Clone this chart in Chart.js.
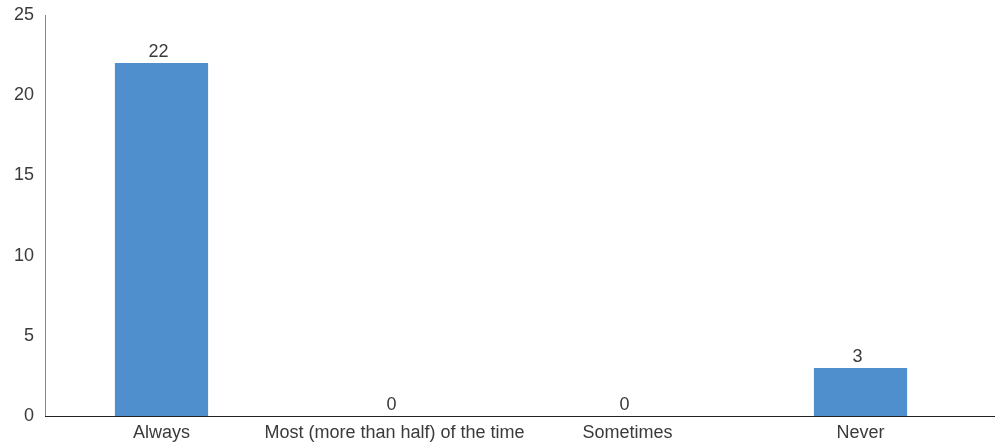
<!DOCTYPE html>
<html>
<head>
<meta charset="utf-8">
<script src="https://cdn.jsdelivr.net/npm/chart.js@4"></script>
<style>
  html, body { margin: 0; padding: 0; background: #fff; }
  #wrap { width: 998px; height: 443px; }
</style>
</head>
<body>
<div id="wrap"><canvas id="barChart"></canvas></div>
<script>
const categories = ['Always', 'Most (more than half) of the time', 'Sometimes', 'Never'];
const counts = [22, 0, 0, 3];
const yTicks = [0, 5, 10, 15, 20, 25];

const textColor = '#3a3a3a';
const fontFamily = '"Liberation Sans", Arial, sans-serif';

// rótulos de valor acima de cada barra + linha do eixo x um pouco mais longa
const valueLabels = {
    id: 'valueLabels',
    afterDatasetsDraw(chart) {
        const ctx = chart.ctx;
        const meta = chart.getDatasetMeta(0);
        ctx.save();
        ctx.font = '18px ' + fontFamily;
        ctx.fillStyle = textColor;
        ctx.textAlign = 'center';
        ctx.textBaseline = 'bottom';
        meta.data.forEach((bar, i) => {
            ctx.fillText(String(counts[i]), bar.x - 3, bar.y - 2);
        });
        const area = chart.chartArea;
        ctx.strokeStyle = '#222';
        ctx.lineWidth = 1;
        ctx.beginPath();
        ctx.moveTo(area.left, Math.round(area.bottom) + 0.5);
        ctx.lineTo(995, Math.round(area.bottom) + 0.5);
        ctx.stroke();
        ctx.restore();
    }
};

new Chart(document.getElementById('barChart'), {
    type: 'bar',
    data: {
        labels: categories,
        datasets: [{
            data: counts,
            backgroundColor: '#4f8fce',
            categoryPercentage: 0.8,
            barPercentage: 0.5
        }]
    },
    options: {
        responsive: true,
        maintainAspectRatio: false,
        animation: false,
        layout: { padding: { top: 15, right: 21, left: 0, bottom: 0 } },
        plugins: { legend: { display: false }, tooltip: { enabled: false } },
        scales: {
            x: {
                grid: { display: false, drawTicks: false },
                border: { display: false },
                ticks: { color: textColor, padding: 6, autoSkip: false, maxRotation: 0, font: { family: fontFamily, size: 18 } },
                afterFit(scale) { scale.height = 27; }
            },
            y: {
                min: 0,
                max: 25,
                afterBuildTicks(scale) { scale.ticks = yTicks.map(v => ({ value: v })); },
                grid: { display: false, drawTicks: false },
                border: { display: true, color: '#888', width: 1 },
                ticks: { color: textColor, padding: 11, font: { family: fontFamily, size: 18 } },
                afterFit(scale) {
                    scale.width = 45;
                    scale.paddingTop = 0;
                    scale.paddingBottom = 0;
                }
            }
        }
    },
    plugins: [valueLabels]
});
</script>
</body>
</html>
